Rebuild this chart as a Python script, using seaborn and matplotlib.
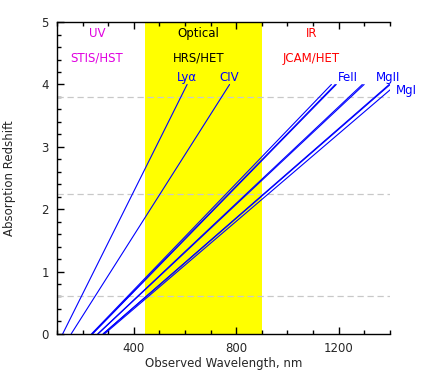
import pandas as pd
import seaborn as sns
import matplotlib
matplotlib.use("Agg")
import matplotlib.pyplot as plt
from matplotlib.ticker import MultipleLocator

# ---------------- DATA ----------------
# absorption lines: rest wavelength (z=0) and observed wavelength at z=4, nm
line_ids = ["Lya", "CIV", "FeII_2344", "FeII_2374", "FeII_2383", "FeII_2587",
            "FeII_2600", "MgII_2796", "MgII_2803", "MgI_2852"]
rest_nm = [121.6, 154.9, 234.4, 237.4, 238.3, 258.7, 260.0, 279.6, 280.4, 285.2]
z4_nm = [608, 774, 1172, 1187, 1191, 1293, 1300, 1398, 1402, 1426]
z_ends = [0, 4]

# line labels (text, x, z)
label_txt = ["Ly\u03b1", "CIV", "FeII", "MgII", "MgI"]
label_x = [606, 773, 1235, 1392, 1464]
label_z = [4.12, 4.12, 4.12, 4.12, 3.91]

# dashed reference redshifts
ref_z = [3.8, 2.25, 0.6]

# optical band, nm
band_lo, band_hi = 445, 900

# band titles
band_names = ["UV", "Optical", "IR"]
band_instr = ["STIS/HST", "HRS/HET", "JCAM/HET"]
band_x = [255, 652, 1095]
band_col = ["#e000e0", "black", "red"]

# ---------------- BUILD TABLE ----------------
rows = []
for name, r, e in zip(line_ids, rest_nm, z4_nm):
    rows.append({"line": name, "wave": r, "z": z_ends[0]})
    rows.append({"line": name, "wave": e, "z": z_ends[1]})
df = pd.DataFrame(rows)

# ---------------- PLOT ----------------
sns.set_style("ticks")
plt.rcParams["font.family"] = ["DejaVu Sans"]

fig = plt.figure(figsize=(4.33, 3.82), dpi=100)
ax = fig.add_axes([0.132, 0.126, 0.768, 0.816])

ax.axvspan(band_lo, band_hi, color="#ffff00", lw=0, zorder=0)
for z in ref_z:
    ax.axhline(z, color="#c8c8c8", lw=0.9, ls=(0, (5, 3)), zorder=1)

sns.lineplot(data=df, x="wave", y="z", hue="line", estimator=None, sort=False,
             palette=["#0000ff"] * len(line_ids), legend=False, lw=0.8, ax=ax, zorder=2)

for t, x, z in zip(label_txt, label_x, label_z):
    ax.text(x, z, t, color="#0000ff", fontsize=8.5, ha="center", va="center", clip_on=False)

for n, ins, x, c in zip(band_names, band_instr, band_x, band_col):
    ax.text(x, 4.82, n, color=c, fontsize=8.5, ha="center", va="center")
    ax.text(x, 4.42, ins, color=c, fontsize=8.5, ha="center", va="center")

ax.set_xlim(100, 1400)
ax.set_ylim(0, 5)
ax.xaxis.set_major_locator(MultipleLocator(400))
ax.xaxis.set_minor_locator(MultipleLocator(100))
ax.yaxis.set_major_locator(MultipleLocator(1))
ax.yaxis.set_minor_locator(MultipleLocator(0.2))
ax.set_xticks([400, 800, 1200])
ax.tick_params(which="both", direction="in", top=True, right=False, labelsize=8.5, width=1, color="black")
ax.tick_params(which="major", length=5)
ax.tick_params(which="minor", length=3)
ax.tick_params(axis="x", which="major", pad=6)
ax.tick_params(axis="y", which="major", pad=6)

ax.spines["right"].set_visible(False)
for s in ["left", "bottom", "top"]:
    ax.spines[s].set_linewidth(1)
    ax.spines[s].set_color("black")

ax.set_xlabel("Observed Wavelength, nm", fontsize=8.5)
ax.set_ylabel("Absorption Redshift", fontsize=8.5)
ax.xaxis.set_label_coords(0.5, -0.075)
ax.yaxis.set_label_coords(-0.125, 0.5)

fig.savefig("out.png", dpi=100)
